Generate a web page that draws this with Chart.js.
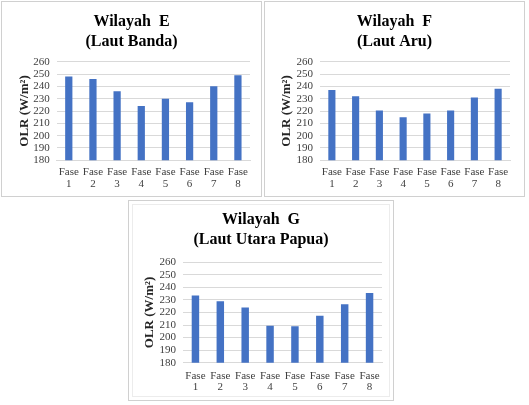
<!DOCTYPE html>
<html><head><meta charset="utf-8">
<script src="https://cdn.jsdelivr.net/npm/chart.js@4/dist/chart.umd.min.js"></script>
<style>
html,body{margin:0;padding:0;background:#fff;width:529px;height:405px;overflow:hidden}
.box{position:absolute;border:1px solid #d0d0d0;box-sizing:border-box;background:#fff}
.box canvas{position:absolute;left:0;top:0}
#bG::before{content:"";position:absolute;left:3px;top:3px;right:3px;bottom:3px;border:1px solid #ececec}
</style></head><body>
<div class="box" id="bE" style="left:1px;top:1px;width:261px;height:196px"><canvas id="cE" width="259" height="194"></canvas></div>
<div class="box" id="bF" style="left:264px;top:1px;width:261px;height:196px"><canvas id="cF" width="259" height="194"></canvas></div>
<div class="box" id="bG" style="left:128px;top:200px;width:266px;height:201px"><canvas id="cG" width="264" height="199"></canvas></div>
<script>
const categories = [["Fase","1"],["Fase","2"],["Fase","3"],["Fase","4"],["Fase","5"],["Fase","6"],["Fase","7"],["Fase","8"]];
const titleE = ["Wilayah  E", "(Laut Banda)"];
const titleF = ["Wilayah  F", "(Laut Aru)"];
const titleG = ["Wilayah  G", "(Laut Utara Papua)"];
const olrE = [248, 246, 236, 224, 230, 227, 240, 249];
const olrF = [237, 232, 220.5, 215, 218, 220.5, 231, 238];
const olrG = [233.5, 229, 224, 209.5, 209, 217.5, 226.5, 235.5];
const yAxisTitle = "OLR (W/m\u00B2)";
const yMin = 180, yMax = 260, yStep = 10;

const SERIF = "'Liberation Serif','Times New Roman',serif";

function makeChart(id, title, values, lay) {
  new Chart(document.getElementById(id), {
    type: 'bar',
    data: { labels: categories, datasets: [{ data: values, backgroundColor: '#4472C4', barPercentage: 0.3, categoryPercentage: 1 }] },
    options: {
      responsive: false, animation: false,
      layout: { padding: 0 },
      plugins: {
        legend: { display: false }, tooltip: { enabled: false },
        title: { display: true, text: title, color: '#000',
          font: { family: SERIF, size: 16, weight: 'bold', lineHeight: 1.25 },
          padding: { top: lay.titleTop, bottom: lay.titleBottom } }
      },
      scales: {
        x: {
          grid: { display: false, drawTicks: false },
          border: { display: true, color: '#d9d9d9' },
          ticks: { color: '#404040', font: { family: SERIF, size: 11, lineHeight: 1.05 }, padding: lay.xPad, maxRotation: 0, autoSkip: false },
          afterFit: s => { s.height = lay.xH; }
        },
        y: {
          min: yMin, max: yMax,
          grid: { color: '#d9d9d9', drawTicks: false },
          border: { display: false },
          ticks: { stepSize: yStep, autoSkip: false, color: '#404040', font: { family: SERIF, size: 11 }, padding: 7 },
          title: { display: true, text: yAxisTitle, color: '#262626',
            font: { family: SERIF, size: 13, weight: 'bold', lineHeight: 1.2 }, padding: { top: lay.yTitleTop, bottom: 0 } },
          afterFit: s => { s.width = lay.yW; }
        },
        yR: {
          position: 'right', display: true,
          grid: { display: false }, border: { display: false }, ticks: { display: false },
          afterFit: s => { s.width = lay.rW; }
        }
      }
    }
  });
}

makeChart('cE', titleE, olrE, { titleTop: 9.7, titleBottom: 10, xH: 35.7, xPad: 6, yW: 54.7, yTitleTop: 15.2, rW: 11 });
makeChart('cF', titleF, olrF, { titleTop: 9.7, titleBottom: 10, xH: 35.7, xPad: 6, yW: 55, yTitleTop: 14.2, rW: 14 });
makeChart('cG', titleG, olrG, { titleTop: 9, titleBottom: 12.3, xH: 37.3, xPad: 7.5, yW: 54, yTitleTop: 13.2, rW: 11 });
</script>
</body></html>
